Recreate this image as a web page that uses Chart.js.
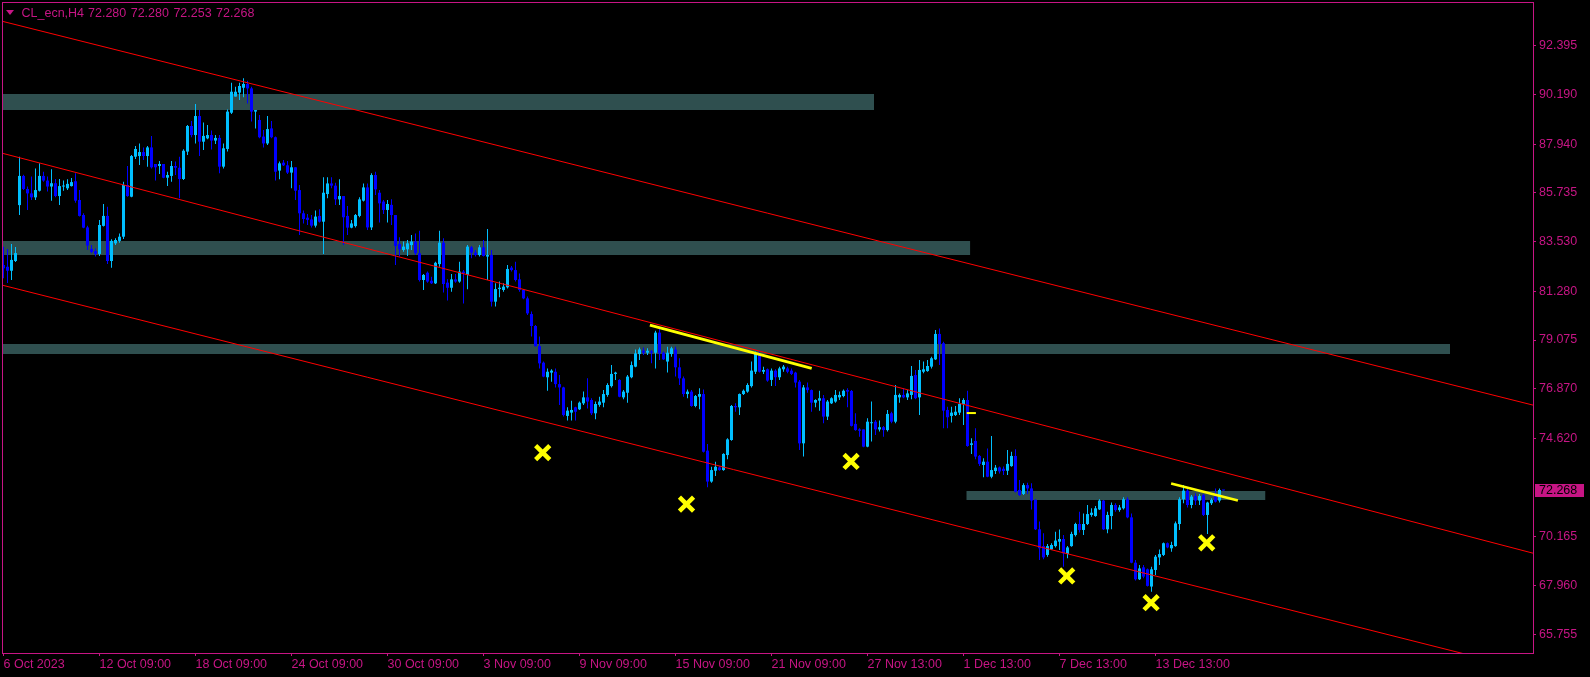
<!DOCTYPE html>
<html>
<head>
<meta charset="utf-8">
<title>CL_ecn,H4</title>
<script src="https://cdn.jsdelivr.net/npm/chart.js@4.4.1/dist/chart.umd.min.js"></script>
<style>
  html, body { margin: 0; padding: 0; background: #000; }
  #wrap { position: relative; width: 1590px; height: 677px; overflow: hidden; }
  #c { display: block; width: 1590px; height: 677px; }
  #tri { position: absolute; left: 6px; top: 10px; width: 0; height: 0;
         border-left: 4.5px solid transparent; border-right: 4.5px solid transparent; border-top: 5px solid #C71585; }
  .hdr { position: absolute; top: 6.7px; font: 12.5px "Liberation Sans", sans-serif; line-height: 1;
         color: #C71585; white-space: pre; }
  #sym { left: 21.5px; }
  #ohlc { left: 88px; word-spacing: 1px; }
</style>
</head>
<body>
<div id="wrap">
  <canvas id="c" width="1590" height="677"></canvas>
  <div id="tri"></div>
  <div id="sym" class="hdr">CL_ecn,H4</div>
  <div id="ohlc" class="hdr"></div>
</div>
<script>
// H4 bars, oldest first
const opens = [
  82.47, 82.39, 82.21, 82.65, 85.18, 86.50, 85.91, 85.71, 85.53, 85.83,
  86.50, 86.29, 86.02, 86.17, 85.59, 86.02, 85.94, 86.04, 86.26, 85.41,
  84.73, 84.17, 83.20, 83.10, 82.97, 84.24, 84.69, 82.65, 83.45, 83.56,
  83.75, 86.09, 85.56, 87.37, 87.40, 87.58, 87.40, 87.79, 87.04, 86.95,
  87.04, 86.42, 86.50, 86.95, 86.87, 86.36, 87.60, 88.76, 88.35, 89.21,
  88.05, 88.20, 88.35, 88.10, 88.22, 86.92, 87.72, 89.36, 90.09, 90.27,
  90.49, 90.66, 90.46, 89.41, 89.03, 88.28, 87.97, 88.65, 88.25, 86.74,
  87.10, 86.98, 86.65, 86.89, 85.86, 84.81, 84.61, 84.53, 84.25, 84.69,
  84.43, 85.68, 86.16, 86.06, 85.44, 85.59, 84.69, 84.16, 84.23, 84.69,
  85.38, 85.98, 84.17, 86.54, 85.74, 85.34, 84.96, 85.19, 84.73, 83.42,
  83.15, 83.18, 83.37, 83.53, 83.00, 81.79, 82.12, 81.76, 81.64, 82.51,
  83.48, 81.67, 81.44, 81.82, 81.72, 82.17, 82.02, 83.27, 83.03, 82.92,
  83.27, 82.85, 82.92, 80.81, 81.38, 81.34, 81.46, 82.35, 82.24, 81.82,
  81.34, 80.96, 80.25, 79.71, 78.80, 78.05, 77.39, 77.60, 77.64, 77.08,
  76.93, 75.64, 75.79, 76.03, 75.94, 76.21, 76.48, 76.36, 75.76, 76.14,
  76.24, 76.59, 76.99, 77.54, 77.27, 76.48, 76.69, 77.39, 77.87, 78.44,
  78.59, 78.50, 78.56, 78.50, 79.41, 78.50, 78.10, 78.44, 78.65, 77.84,
  77.34, 76.63, 76.74, 76.09, 76.51, 76.63, 74.07, 72.67, 73.16, 73.31,
  73.19, 73.87, 74.55, 76.09, 76.03, 76.63, 76.74, 76.99, 77.64, 78.44,
  77.64, 77.75, 77.27, 77.69, 77.39, 77.75, 77.79, 77.69, 77.60, 77.19,
  74.40, 76.93, 76.81, 76.24, 76.33, 76.44, 75.61, 76.21, 76.29, 76.48,
  76.54, 76.81, 76.77, 75.28, 75.03, 75.03, 74.25, 75.31, 75.38, 75.03,
  75.13, 75.00, 75.76, 75.38, 76.48, 76.59, 76.48, 76.59, 77.49, 76.48,
  77.64, 77.67, 77.87, 78.20, 79.35, 78.93, 75.91, 75.64, 75.68, 75.79,
  76.18, 76.36, 74.33, 74.51, 73.83, 73.42, 73.57, 72.89, 73.15, 73.31,
  73.25, 73.16, 73.37, 73.83, 72.29, 72.11, 72.51, 72.36, 71.84, 70.51,
  69.75, 69.35, 69.60, 69.75, 69.95, 70.07, 69.39, 69.75, 70.25, 70.75,
  70.48, 70.75, 71.16, 71.11, 71.41, 71.81, 70.51, 71.11, 71.61, 71.38,
  71.46, 71.87, 71.05, 69.00, 68.25, 68.79, 68.70, 67.92, 68.67, 69.24,
  69.35, 69.88, 69.65, 69.75, 70.75, 71.87, 72.26, 71.61, 72.02, 71.81,
  72.06, 71.16, 71.69, 71.99, 71.81, 72.280
];
const highs = [
  83.30, 83.19, 83.42, 83.28, 87.37, 86.55, 86.02, 86.47, 86.84, 87.07,
  86.69, 86.47, 86.80, 86.36, 86.36, 86.29, 86.35, 86.41, 86.62, 85.86,
  84.81, 84.24, 83.37, 83.22, 84.51, 85.23, 85.11, 83.63, 83.68, 83.90,
  86.24, 86.95, 87.45, 87.85, 87.97, 87.79, 87.85, 88.31, 87.04, 87.18,
  87.04, 86.69, 87.18, 87.15, 87.37, 87.71, 88.80, 88.99, 89.75, 89.48,
  88.92, 88.80, 88.55, 88.35, 88.35, 87.97, 89.51, 90.72, 90.54, 90.72,
  90.92, 90.81, 90.54, 89.48, 89.26, 88.58, 89.21, 88.99, 88.28, 87.15,
  87.22, 87.18, 87.18, 86.89, 86.09, 84.93, 84.78, 84.73, 84.93, 84.99,
  86.44, 86.44, 86.44, 86.19, 86.35, 85.59, 85.14, 84.51, 84.78, 85.53,
  86.16, 86.16, 86.62, 86.69, 85.86, 85.41, 85.41, 85.44, 84.73, 83.72,
  83.53, 83.60, 83.83, 83.90, 84.02, 82.06, 82.17, 81.94, 82.62, 84.02,
  83.68, 81.82, 82.06, 82.06, 82.62, 82.24, 83.37, 83.33, 83.15, 83.37,
  83.60, 84.10, 83.15, 81.64, 81.72, 81.64, 82.47, 82.42, 82.62, 82.09,
  81.37, 81.04, 80.36, 79.75, 79.23, 78.10, 77.79, 77.75, 77.79, 77.49,
  76.96, 76.03, 76.33, 76.06, 76.29, 76.74, 77.34, 76.44, 76.29, 76.51,
  76.81, 77.12, 77.94, 77.64, 77.30, 76.81, 77.49, 78.10, 78.65, 78.74,
  78.74, 78.70, 78.62, 79.50, 79.60, 78.55, 78.77, 78.77, 78.77, 78.25,
  77.42, 76.84, 76.81, 76.59, 76.89, 76.84, 74.37, 73.34, 73.57, 73.36,
  73.95, 74.63, 76.14, 76.21, 76.66, 76.84, 77.12, 78.10, 78.55, 78.55,
  77.87, 77.79, 77.79, 77.75, 77.87, 77.94, 77.87, 77.79, 77.64, 77.27,
  77.04, 77.15, 76.84, 76.39, 76.78, 76.59, 76.36, 76.48, 76.81, 76.74,
  76.84, 76.89, 76.81, 75.76, 75.08, 75.03, 75.53, 76.29, 75.46, 75.43,
  75.19, 75.91, 75.83, 77.04, 76.66, 76.89, 76.81, 77.90, 77.72, 78.17,
  78.10, 78.17, 78.32, 79.53, 79.60, 79.00, 76.06, 76.06, 76.09, 76.44,
  76.44, 76.78, 74.63, 75.08, 73.87, 73.72, 74.17, 74.73, 73.42, 73.35,
  73.35, 74.10, 74.02, 74.13, 72.74, 72.59, 72.62, 72.59, 71.87, 70.86,
  70.33, 69.85, 69.88, 70.40, 70.50, 70.25, 69.75, 70.40, 70.81, 71.31,
  71.23, 71.61, 71.46, 71.56, 71.87, 71.84, 71.31, 71.72, 71.69, 71.61,
  71.96, 71.96, 71.23, 69.12, 68.90, 68.90, 68.74, 68.82, 69.35, 69.60,
  69.91, 69.91, 69.95, 70.86, 71.96, 72.51, 72.36, 72.06, 72.14, 72.11,
  72.11, 71.76, 71.91, 72.36, 72.36, 72.280
];
const lows = [
  81.87, 81.65, 81.79, 82.61, 84.73, 85.86, 84.96, 85.41, 85.41, 85.79,
  86.24, 85.79, 85.38, 85.53, 85.19, 85.83, 85.86, 86.02, 85.29, 84.66,
  84.13, 83.15, 83.00, 82.85, 82.88, 84.21, 82.52, 82.35, 83.38, 83.48,
  83.65, 85.56, 85.53, 87.27, 87.00, 87.22, 86.92, 86.84, 86.29, 86.59,
  86.39, 86.04, 86.24, 86.54, 85.49, 86.32, 87.45, 88.25, 87.97, 87.40,
  87.67, 88.16, 87.70, 87.94, 86.62, 86.84, 87.60, 89.30, 90.09, 89.94,
  90.06, 89.78, 88.96, 88.65, 88.20, 87.79, 87.90, 88.20, 86.29, 86.35,
  86.95, 86.59, 85.94, 85.41, 83.83, 84.35, 84.28, 84.17, 84.17, 84.39,
  82.97, 85.49, 85.94, 85.19, 85.19, 83.37, 83.83, 84.13, 84.17, 84.63,
  85.34, 84.05, 84.05, 85.64, 84.39, 84.78, 84.39, 84.28, 82.47, 82.85,
  83.07, 82.88, 83.15, 82.92, 81.72, 81.34, 81.67, 81.61, 81.61, 82.39,
  81.22, 80.86, 81.26, 81.67, 81.67, 80.73, 81.37, 82.77, 82.85, 82.85,
  82.85, 81.79, 80.59, 80.59, 81.01, 81.26, 81.41, 82.17, 81.72, 81.26,
  80.92, 80.21, 79.23, 78.77, 77.79, 77.39, 76.78, 77.19, 76.93, 76.14,
  75.61, 75.43, 75.43, 75.43, 75.91, 76.14, 75.98, 75.68, 75.49, 76.06,
  76.03, 76.51, 76.93, 77.27, 76.48, 76.39, 76.24, 77.34, 77.84, 78.17,
  78.40, 78.40, 78.02, 77.79, 78.17, 78.17, 77.60, 78.32, 77.42, 77.04,
  76.51, 76.44, 76.06, 76.03, 75.94, 73.98, 72.41, 72.62, 72.92, 73.16,
  73.16, 73.68, 74.52, 75.83, 75.68, 76.59, 76.69, 76.93, 77.54, 77.60,
  77.54, 77.19, 76.99, 76.99, 77.27, 77.64, 77.57, 77.49, 76.93, 74.10,
  73.80, 76.69, 75.83, 76.03, 75.88, 75.31, 75.46, 76.18, 76.24, 76.36,
  76.48, 76.03, 75.16, 74.97, 74.70, 74.22, 74.22, 74.48, 74.78, 74.93,
  74.70, 74.93, 75.31, 75.31, 76.24, 76.44, 76.36, 76.39, 76.39, 75.68,
  77.57, 77.64, 77.79, 78.17, 77.95, 75.08, 75.08, 75.34, 75.64, 75.68,
  75.23, 74.25, 73.92, 73.68, 73.38, 72.86, 72.86, 72.82, 73.01, 73.04,
  72.97, 72.97, 73.34, 72.17, 72.02, 72.06, 72.11, 71.41, 70.48, 69.12,
  69.15, 69.27, 69.57, 69.69, 69.57, 68.82, 69.20, 69.72, 70.18, 70.36,
  70.25, 70.71, 71.08, 71.08, 71.38, 70.48, 70.33, 70.51, 71.31, 71.31,
  71.41, 71.01, 68.97, 68.19, 68.22, 68.29, 67.92, 67.69, 68.44, 68.90,
  69.30, 69.65, 69.50, 69.72, 70.48, 71.69, 71.50, 71.46, 71.61, 71.61,
  71.11, 70.30, 71.61, 71.72, 71.72, 72.253
];
const closes = [
  82.32, 82.21, 82.70, 83.01, 86.50, 85.91, 85.71, 85.53, 85.86, 86.50,
  86.29, 86.02, 86.17, 85.59, 86.04, 86.06, 86.14, 86.22, 85.38, 84.69,
  84.16, 83.35, 83.06, 82.97, 84.28, 84.69, 82.65, 83.56, 83.60, 83.75,
  86.09, 85.59, 87.40, 87.72, 87.58, 87.40, 87.79, 86.89, 86.89, 87.04,
  86.42, 86.54, 86.95, 86.87, 86.36, 87.64, 88.76, 88.35, 89.21, 88.05,
  88.31, 88.35, 88.10, 88.22, 86.92, 87.75, 89.41, 90.31, 90.31, 90.57,
  90.66, 90.46, 89.41, 89.48, 88.25, 87.97, 88.62, 88.25, 86.69, 87.07,
  86.98, 86.65, 86.89, 85.83, 84.81, 84.55, 84.51, 84.25, 84.66, 84.43,
  85.74, 86.16, 86.06, 85.44, 85.59, 84.63, 84.16, 84.35, 84.73, 85.44,
  85.98, 84.17, 86.54, 85.89, 85.26, 84.96, 85.23, 84.73, 83.33, 83.18,
  83.30, 83.45, 83.53, 83.00, 81.79, 82.02, 81.72, 81.64, 82.57, 83.48,
  81.61, 81.44, 81.82, 81.72, 82.17, 82.10, 83.30, 83.03, 82.92, 83.27,
  82.88, 82.92, 80.81, 81.38, 81.44, 81.49, 82.29, 82.24, 81.79, 81.34,
  80.96, 80.28, 79.71, 78.80, 78.02, 77.42, 77.64, 77.69, 77.08, 76.93,
  75.68, 75.88, 75.91, 75.83, 76.24, 76.48, 76.29, 75.76, 76.18, 76.29,
  76.63, 77.04, 77.54, 77.60, 76.51, 76.74, 77.42, 77.94, 78.47, 78.65,
  78.50, 78.59, 78.50, 79.41, 78.47, 78.20, 78.50, 78.70, 77.84, 77.34,
  76.63, 76.74, 76.09, 76.54, 76.63, 74.02, 72.67, 73.19, 73.34, 73.19,
  73.92, 74.58, 76.09, 76.03, 76.63, 76.78, 77.04, 77.69, 78.47, 77.64,
  77.72, 77.24, 77.69, 77.39, 77.79, 77.87, 77.64, 77.54, 77.15, 74.40,
  76.93, 76.81, 76.24, 76.36, 76.44, 75.61, 76.29, 76.44, 76.59, 76.59,
  76.78, 76.74, 75.19, 75.00, 74.97, 74.25, 75.38, 75.35, 75.03, 75.13,
  75.00, 75.73, 75.38, 76.59, 76.59, 76.48, 76.66, 77.45, 76.44, 77.72,
  77.75, 77.90, 78.25, 79.35, 78.89, 75.88, 75.58, 75.79, 75.83, 76.18,
  76.36, 74.28, 74.40, 73.80, 73.47, 73.57, 72.89, 73.19, 73.30, 73.13,
  73.15, 73.47, 73.83, 72.21, 72.06, 72.51, 72.36, 71.81, 70.51, 69.65,
  69.24, 69.75, 69.80, 70.00, 70.07, 69.42, 69.69, 70.30, 70.75, 70.48,
  70.75, 71.20, 71.26, 71.46, 71.81, 70.51, 71.16, 71.61, 71.38, 71.50,
  71.87, 71.05, 69.00, 68.25, 68.74, 68.37, 67.95, 68.70, 69.27, 69.39,
  69.88, 69.69, 69.80, 70.78, 71.87, 72.26, 71.61, 71.99, 71.81, 72.02,
  71.16, 71.72, 71.84, 71.76, 72.29, 72.268
];

// time axis: bar index of each label
const tickIdx = [0, 24, 48, 72, 96, 120, 144, 168, 192, 216, 240, 264, 288];
const xLabels = ['6 Oct 2023', '12 Oct 09:00', '18 Oct 09:00', '24 Oct 09:00', '30 Oct 09:00',
  '3 Nov 09:00', '9 Nov 09:00', '15 Nov 09:00', '21 Nov 09:00', '27 Nov 13:00',
  '1 Dec 13:00', '7 Dec 13:00', '13 Dec 13:00'];
const yTicks = [92.395, 90.190, 87.940, 85.735, 83.530, 81.280, 79.075, 76.870, 74.620, 70.165, 67.960, 65.755];

// visible window (bar index / price)
const XMIN = -0.375, XMAX = 382.375;
const YMIN = 64.913, YMAX = 94.370;

// zones drawn on the chart (price range, bar range)
const bandTop    = [90.207, 83.555, 78.895, 72.243];
const bandBottom = [89.483, 82.921, 78.442, 71.836];
const bandFrom   = [XMIN, XMIN, XMIN, 240.7];
const bandTo     = [217.65, 241.7, 361.65, 315.5];

// channel lines, price at left and right edge
const chanX = [XMIN, XMAX];
const chanUpper = [93.50, 76.13];
const chanMid   = [87.53, 69.43];
const chanLower = [81.56, 64.09];

// yellow trend lines and marker
const trend1X = [161.6, 202.05], trend1Y = [79.75, 77.79];
const trend2X = [291.9, 308.6],  trend2Y = [72.58, 71.81];
const dashX = [240.8, 243.1],    dashY = [75.77, 75.77];

// swing markers
const crossX = [134.8, 170.75, 211.9, 265.8, 286.9, 300.8];
const crossY = [73.98, 71.65, 73.58, 68.40, 67.19, 69.90];

const FG = '#C71585';
const BULL = '#00BFFF';
const BEAR = '#0000FF';
const BAND = '#2F4F4F';
const RED = '#FF0000';
const YEL = '#FFFF00';

Chart.defaults.font.family = '"Liberation Sans", sans-serif';
Chart.defaults.font.size = 12.5;

const last = closes.length - 1;
document.getElementById('ohlc').textContent =
  [opens[last], highs[last], lows[last], closes[last]].map(v => v.toFixed(3)).join(' ');

const idx = closes.map((_, i) => i);
const colorAt = i => closes[i] >= opens[i] ? BULL : BEAR;
const pts = (xs, ys) => xs.map((x, k) => ({ x, y: ys[k] }));

const datasets = [];

bandTop.forEach((top, k) => {
  const xs = [bandFrom[k], bandTo[k]];
  datasets.push({ type: 'line', data: pts(xs, [top, top]), borderColor: 'transparent', borderWidth: 0,
    pointRadius: 0, fill: false, order: 20 });
  datasets.push({ type: 'line', data: pts(xs, [bandBottom[k], bandBottom[k]]), borderColor: 'transparent', borderWidth: 0,
    pointRadius: 0, fill: '-1', backgroundColor: BAND, order: 20 });
});

// wicks, then bodies
datasets.push({ type: 'bar', data: idx.map(i => ({ x: i, y: [lows[i], highs[i]] })),
  backgroundColor: idx.map(colorAt), barThickness: 1, grouped: false, inflateAmount: 0, order: 6 });
datasets.push({ type: 'bar', data: idx.map(i => ({ x: i, y: [opens[i], closes[i]] })),
  backgroundColor: idx.map(colorAt), barThickness: 3, grouped: false, minBarLength: 1, inflateAmount: 0, order: 5 });

[chanUpper, chanMid, chanLower].forEach(ys => {
  datasets.push({ type: 'line', data: pts(chanX, ys), borderColor: RED, borderWidth: 1,
    pointRadius: 0, fill: false, order: 4 });
});

datasets.push({ type: 'line', data: pts(trend1X, trend1Y), borderColor: YEL, borderWidth: 3, pointRadius: 0, fill: false, order: 3 });
datasets.push({ type: 'line', data: pts(trend2X, trend2Y), borderColor: YEL, borderWidth: 2.5, pointRadius: 0, fill: false, order: 3 });
datasets.push({ type: 'line', data: pts(dashX, dashY), borderColor: YEL, borderWidth: 2, pointRadius: 0, fill: false, order: 3 });

datasets.push({ type: 'scatter', data: pts(crossX, crossY), pointStyle: 'crossRot', pointRadius: 10,
  pointBorderWidth: 4.5, pointBorderColor: YEL, pointBackgroundColor: YEL, order: 1 });

// frame around the plot + last price tag on the price axis
const frame = {
  id: 'frame',
  afterDraw(chart) {
    const { ctx, chartArea: a, scales: { y } } = chart;
    ctx.save();
    ctx.strokeStyle = FG;
    ctx.lineWidth = 1;
    ctx.strokeRect(a.left + 0.5, a.top + 0.5, a.right - a.left, a.bottom - a.top);
    const py = Math.round(y.getPixelForValue(closes[last]));
    ctx.fillStyle = FG;
    ctx.fillRect(a.right + 2, py - 6, 49, 13);
    ctx.fillStyle = '#000';
    ctx.font = '12.5px "Liberation Sans", sans-serif';
    ctx.textBaseline = 'middle';
    ctx.fillText(closes[last].toFixed(3), a.right + 6, py + 0.5);
    ctx.restore();
  }
};

// axes keep fixed sizes and ask for no extra room around the plot
const noPad = s => { s.paddingLeft = s.paddingRight = s.paddingTop = s.paddingBottom = 0; };

new Chart(document.getElementById('c'), {
  type: 'bar',
  data: { datasets },
  options: {
    responsive: false,
    animation: false,
    devicePixelRatio: 1,
    events: [],
    layout: { autoPadding: false, padding: { left: 2, top: 2, right: 0, bottom: 0 } },
    plugins: { legend: { display: false }, tooltip: { enabled: false } },
    scales: {
      x: {
        type: 'linear', min: XMIN, max: XMAX, offset: false, bounds: 'data',
        afterBuildTicks: s => { s.ticks = tickIdx.map(v => ({ value: v })); },
        afterFit: s => { s.height = 24; noPad(s); },
        grid: { drawOnChartArea: false, drawTicks: true, tickLength: 3, color: FG, offset: false },
        border: { display: true, color: FG },
        ticks: { color: FG, align: 'start', autoSkip: false, maxRotation: 0, padding: 1,
          callback: (v, k) => xLabels[k] }
      },
      y: {
        type: 'linear', position: 'right', min: YMIN, max: YMAX, bounds: 'data', beginAtZero: false,
        afterBuildTicks: s => { s.ticks = yTicks.map(v => ({ value: v })); },
        afterFit: s => { s.width = 57; noPad(s); },
        grid: { drawOnChartArea: false, drawTicks: true, tickLength: 3, color: FG },
        border: { display: true, color: FG },
        ticks: { color: FG, padding: 3, autoSkip: false, callback: v => v.toFixed(3) }
      }
    }
  },
  plugins: [frame]
});
</script>
</body>
</html>
